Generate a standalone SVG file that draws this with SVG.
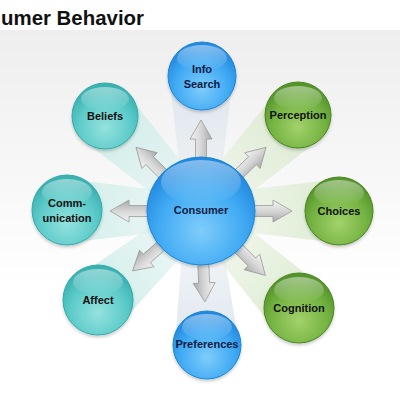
<svg xmlns="http://www.w3.org/2000/svg" xmlns:xlink="http://www.w3.org/1999/xlink" width="400" height="400" viewBox="0 0 400 400">
<style>
.lbl{font-family:"Liberation Sans",Arial,sans-serif;font-weight:bold;font-size:11px;text-anchor:middle;fill:#111}
.blt{fill:#0b1a44}
.title{font-family:"Liberation Sans",Arial,sans-serif;font-weight:bold;font-size:20px;fill:#111}
.blue{fill:url(#gBlue);stroke:#1c86d6;stroke-width:1}
.teal{fill:url(#gTeal);stroke:#33a9a9;stroke-width:1}
.green{fill:url(#gGreen);stroke:#4b8522;stroke-width:1}
.gloss{fill:url(#gGloss)}
.arrow{fill:url(#gArrow);stroke:#9a9a9a;stroke-width:0.8}
</style>
<defs>
<linearGradient id="gBg" x1="0" y1="0" x2="0" y2="1">
<stop offset="0" stop-color="#eeeeee"/>
<stop offset="0.7" stop-color="#ffffff"/>
</linearGradient>
<radialGradient id="gBlue" cx="0.5" cy="0.68" r="0.62">
<stop offset="0" stop-color="#7fcdfb"/>
<stop offset="0.65" stop-color="#3fa9f3"/>
<stop offset="1" stop-color="#2389df"/>
</radialGradient>
<radialGradient id="gTeal" cx="0.5" cy="0.68" r="0.62">
<stop offset="0" stop-color="#95e2de"/>
<stop offset="0.65" stop-color="#5ccbc9"/>
<stop offset="1" stop-color="#3ab2b2"/>
</radialGradient>
<radialGradient id="gGreen" cx="0.5" cy="0.68" r="0.62">
<stop offset="0" stop-color="#a3d26c"/>
<stop offset="0.65" stop-color="#74b342"/>
<stop offset="1" stop-color="#56952b"/>
</radialGradient>
<linearGradient id="gGloss" x1="0" y1="0" x2="0" y2="1">
<stop offset="0" stop-color="#ffffff" stop-opacity="0.45"/>
<stop offset="1" stop-color="#ffffff" stop-opacity="0"/>
</linearGradient>
<linearGradient id="gArrow" x1="0" y1="0" x2="0" y2="1">
<stop offset="0" stop-color="#f4f4f4"/>
<stop offset="0.5" stop-color="#d6d6d6"/>
<stop offset="1" stop-color="#a9a9a9"/>
</linearGradient>
<linearGradient id="bTeal" x1="0" y1="0" x2="1" y2="0">
<stop offset="0" stop-color="#d3eeeb" stop-opacity="0.2"/>
<stop offset="1" stop-color="#d0eeea"/>
</linearGradient>
<linearGradient id="bGreen" x1="0" y1="0" x2="1" y2="0">
<stop offset="0" stop-color="#e2eed8" stop-opacity="0.2"/>
<stop offset="1" stop-color="#dcebd0"/>
</linearGradient>
<linearGradient id="bBlue" x1="0" y1="0" x2="1" y2="0">
<stop offset="0" stop-color="#e3e9ef" stop-opacity="0.2"/>
<stop offset="1" stop-color="#dde6ee"/>
</linearGradient>
<filter id="sh" x="-20%" y="-20%" width="140%" height="150%">
<feDropShadow dx="0" dy="2" stdDeviation="1.5" flood-color="#000" flood-opacity="0.2"/>
</filter>
<path id="arr" class="arrow" d="M50,-5.5 L72,-5.5 L72,-11 L91,0 L72,11 L72,5.5 L50,5.5 Z"/>
</defs>

<rect width="400" height="400" fill="#ffffff"/>
<rect x="0" y="30" width="400" height="370" fill="url(#gBg)"/>
<text class="title" x="1" y="25" textLength="143" lengthAdjust="spacingAndGlyphs">umer Behavior</text>

<g id="beams" transform="translate(201,211)">
<path fill="url(#bBlue)" transform="rotate(-90)" d="M0,-16 L135,-32 L135,32 L0,16 Z"/>
<path fill="url(#bGreen)" transform="rotate(-44.4)" d="M0,-16 L136,-32 L136,32 L0,16 Z"/>
<path fill="url(#bGreen)" transform="rotate(0)" d="M0,-16 L138,-32 L138,32 L0,16 Z"/>
<path fill="url(#bGreen)" transform="rotate(45)" d="M0,-16 L138,-32 L138,32 L0,16 Z"/>
<path fill="url(#bBlue)" transform="rotate(87.5)" d="M0,-16 L134,-32 L134,32 L0,16 Z"/>
<path fill="url(#bTeal)" transform="rotate(138.8)" d="M0,-16 L137,-32 L137,32 L0,16 Z"/>
<path fill="url(#bTeal)" transform="rotate(180)" d="M0,-16 L134,-32 L134,32 L0,16 Z"/>
<path fill="url(#bTeal)" transform="rotate(-135.6)" d="M0,-16 L134,-32 L134,32 L0,16 Z"/>
</g>

<g id="connectors" transform="translate(201,211)">
<use xlink:href="#arr" transform="rotate(-90)"/>
<use xlink:href="#arr" transform="rotate(-44.4)"/>
<use xlink:href="#arr" transform="rotate(0)"/>
<use xlink:href="#arr" transform="rotate(45)"/>
<use xlink:href="#arr" transform="rotate(87.5)"/>
<use xlink:href="#arr" transform="rotate(138.8)"/>
<use xlink:href="#arr" transform="rotate(180)"/>
<use xlink:href="#arr" transform="rotate(-135.6)"/>
</g>

<g id="consumer">
<circle class="blue" cx="201" cy="211" r="54" filter="url(#sh)"/>
<ellipse class="gloss" cx="201" cy="182" rx="40" ry="22"/>
<text class="lbl blt" x="201" y="214">Consumer</text>
</g>
<g id="info-search">
<circle class="blue" cx="202" cy="76" r="34" filter="url(#sh)"/>
<ellipse class="gloss" cx="202" cy="58" rx="25" ry="13"/>
<text class="lbl blt" x="202" y="73">Info</text>
<text class="lbl blt" x="202" y="88">Search</text>
</g>
<g id="perception">
<circle class="green" cx="298" cy="115" r="33" filter="url(#sh)"/>
<ellipse class="gloss" cx="298" cy="98" rx="24" ry="12"/>
<text class="lbl" x="298" y="119">Perception</text>
</g>
<g id="choices">
<circle class="green" cx="339" cy="211" r="34" filter="url(#sh)"/>
<ellipse class="gloss" cx="339" cy="193" rx="25" ry="13"/>
<text class="lbl" x="339" y="215">Choices</text>
</g>
<g id="cognition">
<circle class="green" cx="299" cy="308" r="35" filter="url(#sh)"/>
<ellipse class="gloss" cx="299" cy="290" rx="25" ry="13"/>
<text class="lbl" x="299" y="312">Cognition</text>
</g>
<g id="preferences">
<circle class="blue" cx="207" cy="345" r="34" filter="url(#sh)"/>
<ellipse class="gloss" cx="207" cy="327" rx="25" ry="13"/>
<text class="lbl blt" x="207" y="348">Preferences</text>
</g>
<g id="affect">
<circle class="teal" cx="98" cy="300" r="35" filter="url(#sh)"/>
<ellipse class="gloss" cx="98" cy="282" rx="25" ry="13"/>
<text class="lbl" x="98" y="304">Affect</text>
</g>
<g id="communication">
<circle class="teal" cx="67" cy="210" r="35" filter="url(#sh)"/>
<ellipse class="gloss" cx="67" cy="192" rx="25" ry="13"/>
<text class="lbl" x="67" y="207">Comm-</text>
<text class="lbl" x="67" y="222">unication</text>
</g>
<g id="beliefs">
<circle class="teal" cx="105" cy="116" r="33" filter="url(#sh)"/>
<ellipse class="gloss" cx="105" cy="99" rx="24" ry="12"/>
<text class="lbl" x="105" y="120">Beliefs</text>
</g>
</svg>
